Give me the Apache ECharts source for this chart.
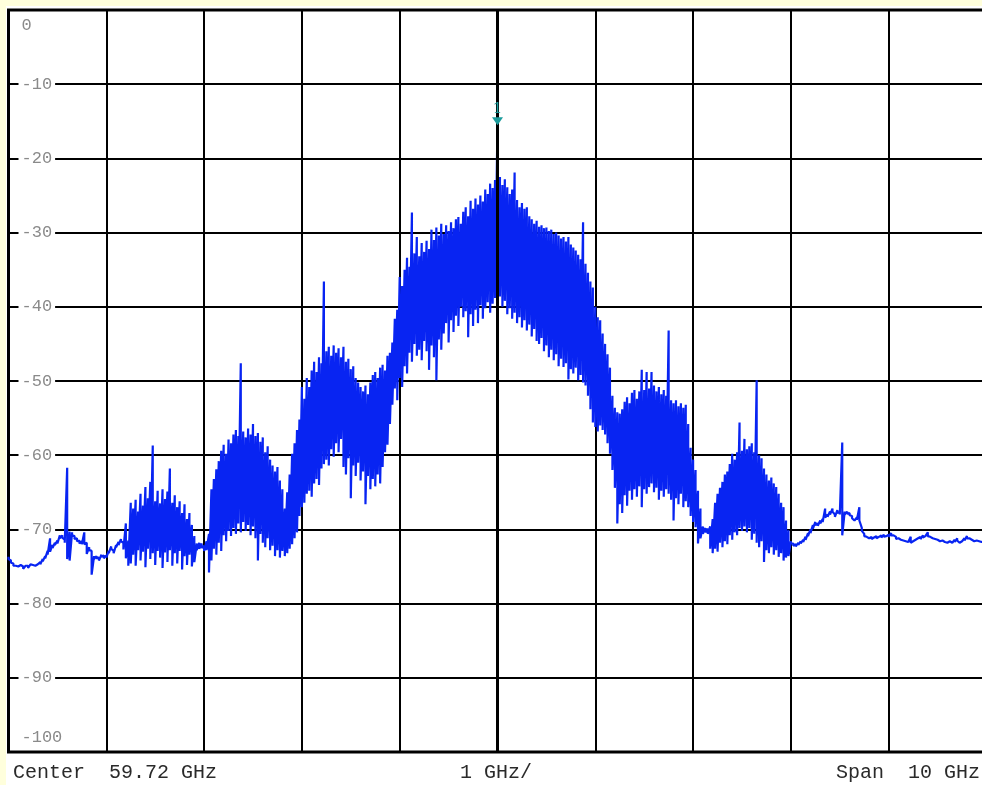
<!DOCTYPE html>
<html>
<head>
<meta charset="utf-8">
<script src="https://cdn.jsdelivr.net/npm/echarts@6/dist/echarts.min.js"></script>
<style>
  html, body { margin: 0; padding: 0; background: #ffffdc; }
  #chart { width: 982px; height: 785px; }
</style>
</head>
<body>
<div id="chart"></div>
<script>
// Annotation strings shown under the trace
const centerText = 'Center  59.72 GHz';
const divText = '1 GHz/';
const spanText = 'Span  10 GHz';

// Frequency span (GHz), centred on the carrier
const spanGHz = 10;
const divGHz = 1;

// Reference level axis (dBm)
const levelTop = 0;
const levelBottom = -100;
const levelStep = 10;

// Marker annotation
const markerText = '1';

// Auto-peak detector: highest level seen in each of the 401 sweep bins (dBm)
const levelsMax = [
  -73.7, -74.2, -74.6, -74.9, -75.0, -74.8, -75.0, -74.9, -74.9, -74.7,
  -74.8, -74.9, -74.7, -74.4, -74.0, -73.6, -72.9, -71.2, -72.1, -71.8,
  -71.5, -70.8, -70.8, -71.4, -61.7, -70.3, -70.4, -70.9, -71.2, -71.5,
  -71.6, -70.4, -71.8, -72.4, -72.9, -73.6, -73.6, -73.8, -73.4, -73.5,
  -73.5, -72.9, -72.3, -72.9, -72.1, -71.7, -71.3, -71.8, -69.2, -71.5,
  -66.4, -67.2, -66.0, -67.6, -65.2, -66.8, -64.3, -65.8, -63.6, -58.7,
  -66.2, -64.8, -66.5, -64.6, -65.9, -64.9, -61.8, -66.4, -65.4, -67.0,
  -66.2, -67.8, -66.6, -68.6, -67.8, -69.4, -70.9, -71.9, -71.8, -71.9,
  -72.2, -71.6, -70.6, -64.6, -63.2, -61.9, -60.8, -59.4, -58.6, -59.8,
  -57.9, -58.4, -57.2, -56.6, -57.4, -47.6, -56.8, -57.6, -56.4, -57.2,
  -55.8, -57.4, -57.0, -58.2, -57.6, -59.6, -58.8, -60.6, -61.4, -62.2,
  -61.6, -63.4, -64.6, -67.2, -65.0, -62.6, -59.8, -58.4, -56.6, -55.2,
  -50.8, -52.4, -49.6, -50.8, -48.6, -47.4, -48.8, -46.8, -47.6, -36.6,
  -46.0, -45.4, -46.6, -45.2, -46.2, -45.6, -46.8, -45.4, -47.4, -47.0,
  -48.4, -48.0, -49.6, -50.2, -50.8, -51.4, -50.6, -51.8, -50.2, -49.2,
  -48.8, -49.6, -48.2, -47.8, -48.6, -46.6, -46.2, -44.8, -41.6, -40.4,
  -36.0, -37.2, -35.0, -33.4, -34.6, -27.3, -32.8, -30.6, -33.2, -31.4,
  -32.6, -31.1, -32.2, -29.6, -31.0, -29.3, -30.4, -28.8, -30.2, -29.0,
  -29.8, -28.6, -29.4, -28.2, -27.9, -28.8, -27.2, -26.6, -27.8, -25.7,
  -26.8, -25.4, -26.2, -25.0, -25.8, -24.2, -24.8, -23.4, -24.0, -22.9,
  -15.0, -22.5, -23.6, -22.8, -23.9, -24.8, -24.2, -21.9, -25.6, -26.6,
  -26.0, -26.8, -26.6, -27.8, -28.2, -28.8, -28.4, -29.2, -29.0, -29.4,
  -29.3, -29.8, -29.6, -30.2, -30.0, -30.4, -30.8, -30.6, -31.2, -30.6,
  -31.6, -32.0, -32.4, -33.0, -33.6, -28.6, -34.2, -35.4, -36.6, -37.4,
  -40.0, -41.4, -41.8, -43.6, -45.0, -46.4, -48.2, -52.0, -53.6, -54.2,
  -54.4, -53.8, -52.8, -52.2, -53.0, -51.6, -51.2, -52.4, -51.4, -48.5,
  -51.2, -48.8, -51.0, -48.8, -50.6, -51.4, -50.8, -51.8, -51.2, -52.0,
  -43.2, -52.6, -53.0, -52.6, -53.4, -53.0, -53.6, -53.2, -55.8, -59.0,
  -60.6, -62.0, -64.8, -67.2, -69.6, -69.8, -69.9, -69.6, -68.6, -66.4,
  -65.2, -64.4, -63.6, -62.6, -62.2, -61.2, -59.8, -60.6, -59.6, -55.6,
  -59.4, -57.8, -59.2, -58.8, -58.4, -59.6, -49.9, -60.0, -60.4, -61.8,
  -62.6, -63.4, -63.0, -63.8, -64.3, -65.2, -66.4, -67.0, -68.8, -70.1,
  -71.6, -71.9, -72.0, -71.8, -71.6, -71.4, -71.0, -70.5, -70.0, -69.4,
  -69.0, -69.2, -68.8, -68.6, -67.2, -68.0, -67.6, -67.2, -68.0, -67.4,
  -67.6, -58.3, -67.6, -67.6, -67.8, -68.2, -68.8, -68.4, -67.0, -69.8,
  -70.6, -71.0, -71.2, -71.0, -71.1, -70.9, -71.0, -70.8, -70.7, -70.9,
  -70.7, -70.5, -70.8, -71.0, -71.2, -71.4, -71.5, -71.6, -71.7, -71.0,
  -71.6, -71.4, -71.2, -71.0, -70.8, -70.9, -70.4, -71.0, -71.2, -71.3,
  -71.4, -71.6, -71.5, -71.7, -71.8, -71.6, -71.8, -71.4, -71.2, -71.8,
  -71.6, -71.2, -70.9, -71.2, -71.4, -71.6, -71.5, -71.6, -71.7, -71.6,
  -71.5
];

// Auto-peak detector: lowest level seen in each sweep bin (dBm)
const levelsMin = [
  -74.0, -74.5, -74.9, -75.1, -75.2, -75.0, -75.3, -75.1, -75.2, -74.9,
  -75.0, -75.1, -74.9, -74.7, -74.3, -73.9, -73.4, -73.0, -72.5, -72.1,
  -71.9, -71.2, -71.1, -71.8, -74.0, -74.2, -70.8, -71.3, -71.6, -71.9,
  -72.0, -72.0, -73.3, -72.8, -76.1, -74.0, -73.9, -74.2, -73.7, -73.9,
  -73.8, -73.2, -72.6, -73.2, -72.4, -72.1, -71.6, -72.7, -73.9, -74.9,
  -74.6, -73.4, -74.9, -72.8, -74.2, -73.0, -75.1, -72.6, -74.0, -73.2,
  -74.8, -72.9, -73.8, -75.2, -73.1, -74.4, -72.8, -74.9, -73.2, -74.6,
  -72.9, -75.4, -73.6, -74.8, -73.4, -75.0, -74.4, -72.8, -72.6, -72.5,
  -72.9, -72.8, -75.8, -74.2, -72.6, -73.4, -71.8, -72.9, -70.8, -71.6,
  -70.2, -70.9, -69.8, -70.6, -69.2, -70.4, -69.0, -70.2, -69.4, -70.8,
  -69.6, -71.2, -74.2, -70.6, -71.8, -72.4, -71.2, -72.8, -72.2, -73.6,
  -72.8, -73.8, -72.9, -73.6, -73.2, -72.6, -72.0, -71.2, -70.4, -68.2,
  -67.0, -66.4, -65.2, -64.8, -65.6, -63.8, -63.2, -64.0, -61.8, -61.2,
  -60.6, -61.4, -59.2, -60.2, -58.4, -59.6, -57.8, -61.6, -62.6, -60.4,
  -65.8, -61.4, -62.8, -61.0, -63.4, -62.2, -66.6, -62.8, -64.6, -63.2,
  -64.2, -62.6, -63.8, -61.6, -59.6, -58.6, -55.8, -53.2, -51.0, -52.6,
  -49.6, -50.8, -48.0, -49.0, -46.2, -47.4, -45.0, -46.6, -45.8, -47.2,
  -44.6, -46.0, -48.5, -45.2, -46.8, -49.9, -44.4, -45.8, -43.6, -42.2,
  -44.8, -41.8, -43.4, -41.2, -42.6, -40.0, -41.4, -40.6, -44.1, -41.0,
  -42.6, -40.4, -42.2, -39.8, -41.6, -40.2, -39.4, -40.8, -39.6, -38.8,
  -39.6, -38.6, -40.0, -39.2, -41.0, -40.2, -41.6, -40.8, -42.2, -41.4,
  -42.8, -41.8, -43.2, -42.4, -44.0, -43.0, -44.6, -45.0, -44.2, -46.0,
  -45.2, -46.8, -45.8, -47.2, -46.4, -48.0, -47.0, -48.1, -47.6, -49.8,
  -48.4, -49.0, -48.2, -49.9, -49.2, -50.2, -50.6, -52.0, -53.8, -55.6,
  -56.2, -56.8, -56.0, -56.6, -57.2, -58.4, -59.8, -62.0, -64.4, -69.2,
  -66.6, -67.8, -65.4, -66.8, -64.8, -66.0, -64.6, -65.6, -64.2, -67.0,
  -64.6, -65.2, -64.3, -63.8, -65.0, -64.4, -66.0, -64.8, -65.6, -64.6,
  -65.2, -66.0, -68.8, -65.8, -66.6, -65.2, -67.0, -66.2, -67.0, -68.2,
  -69.0, -69.7, -71.9, -71.2, -70.6, -70.4, -70.6, -72.6, -73.2, -72.6,
  -73.0, -71.8, -72.4, -71.6, -72.0, -70.8, -71.4, -70.4, -70.8, -69.8,
  -70.2, -69.6, -70.4, -69.8, -71.4, -70.6, -71.8, -72.4, -71.6, -74.4,
  -72.8, -73.2, -72.4, -73.4, -72.8, -73.7, -73.2, -74.2, -73.8, -73.6,
  -71.9, -72.2, -72.3, -72.1, -71.9, -71.7, -71.4, -70.9, -70.5, -69.9,
  -69.4, -69.5, -69.2, -69.0, -68.4, -68.3, -68.0, -67.6, -68.3, -67.8,
  -68.0, -70.8, -68.0, -67.9, -68.1, -68.5, -69.0, -68.7, -68.8, -70.2,
  -70.9, -71.2, -71.4, -71.3, -71.3, -71.2, -71.2, -71.1, -71.0, -71.1,
  -71.0, -70.8, -71.0, -71.3, -71.4, -71.6, -71.7, -71.8, -71.9, -71.8,
  -71.8, -71.6, -71.4, -71.3, -71.1, -71.1, -70.9, -71.2, -71.4, -71.5,
  -71.6, -71.8, -71.7, -71.9, -72.0, -71.8, -72.0, -71.7, -71.5, -72.0,
  -71.8, -71.5, -71.2, -71.4, -71.6, -71.8, -71.7, -71.8, -71.9, -71.8,
  -71.7
];

// Bin frequencies as offsets from the centre frequency (GHz)
const binCount = levelsMax.length;
const offsets = levelsMax.map((_, i) => -spanGHz / 2 + i * spanGHz / (binCount - 1));

// Each bin is drawn as a vertical stroke from its max to its min, joined to the next bin
const trace = [];
for (let i = 0; i < binCount; i++) {
  trace.push([offsets[i], levelsMax[i]]);
  trace.push([offsets[i], levelsMin[i]]);
}

const MONO = 'Liberation Mono';
const TRACE_BLUE = '#0824f2';
const MARKER_TEAL = '#1c9c9c';

const chart = echarts.init(document.getElementById('chart'), null, { renderer: 'canvas' });

chart.setOption({
  animation: false,
  backgroundColor: '#ffffdc',
  grid: {
    left: 8.5, top: 10, width: 978, height: 742,
    outerBoundsMode: 'none',
    show: true, backgroundColor: '#ffffff',
    borderColor: '#000000', borderWidth: 3
  },
  xAxis: {
    type: 'value',
    min: -spanGHz / 2, max: spanGHz / 2, interval: divGHz,
    axisLine: { show: false }, axisTick: { show: false }, axisLabel: { show: false },
    splitLine: { show: true, lineStyle: { color: '#000000', width: 2 } }
  },
  yAxis: {
    type: 'value',
    min: levelBottom, max: levelTop, interval: levelStep,
    axisLine: { show: false }, axisTick: { show: false },
    splitLine: { show: true, lineStyle: { color: '#000000', width: 2 } },
    axisLabel: {
      inside: true, margin: 10, showMinLabel: true, showMaxLabel: true,
      color: '#8a8a8a', fontFamily: MONO, fontSize: 17, lineHeight: 15,
      formatter: v => {
        if (v === levelTop) return '\n\n{e|' + v + '}';
        if (v === levelBottom) return '{e|' + v + '}\n\n';
        return '{m|' + v + '}';
      },
      rich: {
        m: { backgroundColor: '#ffffff', padding: [1, 3], color: '#8a8a8a', fontFamily: MONO, fontSize: 17, lineHeight: 15 },
        e: { padding: [0, 3], color: '#8a8a8a', fontFamily: MONO, fontSize: 17, lineHeight: 15 }
      }
    }
  },
  graphic: [
    { type: 'rect', z: -10, shape: { x: 6, y: 6, width: 990, height: 790 }, style: { fill: '#ffffff' } },
    { type: 'text', z: 10, left: 13, top: 763, style: { text: centerText, font: '20px "Liberation Mono"', fill: '#2a2a2a' } },
    { type: 'text', z: 10, left: 460, top: 763, style: { text: divText, font: '20px "Liberation Mono"', fill: '#2a2a2a' } },
    { type: 'text', z: 10, right: 2, top: 763, style: { text: spanText, font: '20px "Liberation Mono"', fill: '#2a2a2a' } }
  ],
  series: [
    {
      // heavier centre-frequency graticule line
      type: 'line', data: [], z: 1, silent: true,
      markLine: {
        silent: true, symbol: 'none', label: { show: false },
        lineStyle: { color: '#000000', width: 3, type: 'solid' },
        data: [{ xAxis: 0 }]
      }
    },
    {
      type: 'line', z: 3, data: trace,
      showSymbol: false, symbol: 'none',
      lineStyle: { color: TRACE_BLUE, width: 2.2 },
      markPoint: {
        symbol: 'triangle', symbolRotate: 180, symbolSize: [11, 8],
        itemStyle: { color: MARKER_TEAL },
        label: { show: true, position: 'top', distance: 1, formatter: markerText, color: MARKER_TEAL, fontSize: 15, fontFamily: 'DejaVu Serif' },
        data: [{ type: 'max' }]
      }
    }
  ]
});
</script>
</body>
</html>
